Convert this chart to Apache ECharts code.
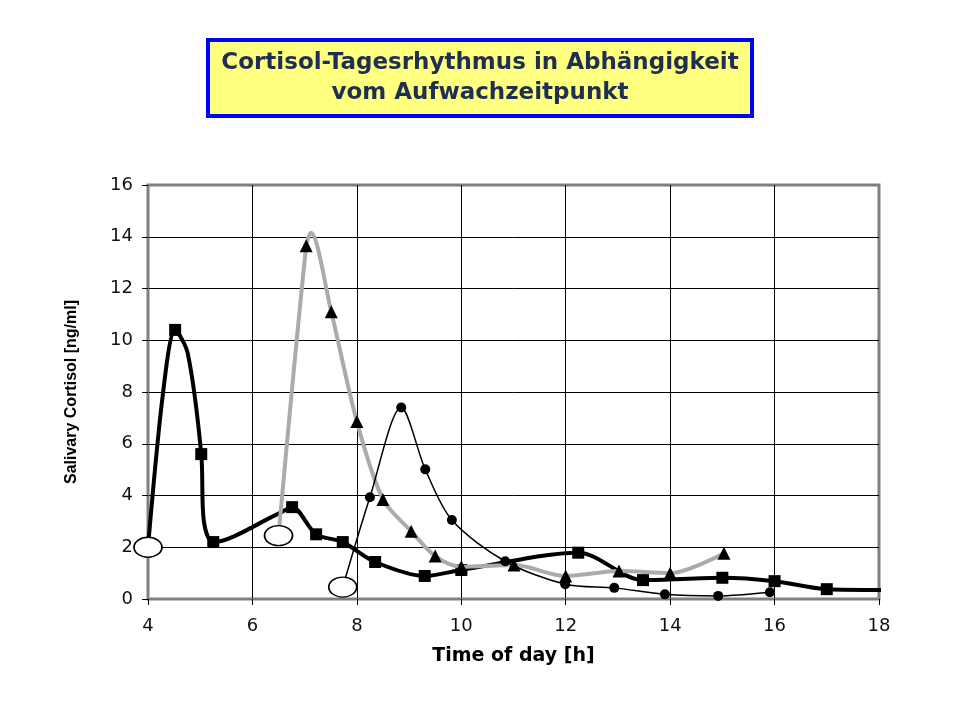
<!DOCTYPE html>
<html lang="de">
<head>
  <meta charset="UTF-8" />
  <title>Cortisol-Tagesrhythmus</title>
  <script src="https://cdn.jsdelivr.net/npm/echarts@6/dist/echarts.min.js"></script>
  <style>
    html, body { margin: 0; padding: 0; background: #fff; }
  </style>
</head>
<body>
  <div id="main" style="width: 960px; height: 720px;"></div>
  <script type="text/javascript">
    // Achsen
    let xTicks = [4, 6, 8, 10, 12, 14, 16, 18];
    let yTicks = [0, 2, 4, 6, 8, 10, 12, 14, 16];

    // Aufwachen ca. 4:00 (dicke schwarze Linie, Quadrate)
    let wake4X = [4.0, 4.29, 4.52, 4.76, 5.02, 5.07, 5.25, 6.5, 6.76, 7.22, 7.73, 8.35, 9.3, 10.0, 12.24, 13.48, 15.0, 16.0, 17.0, 18.35];
    let wake4Y = [2.0, 8.0, 10.4, 9.5, 5.6, 3.0, 2.2, 3.3, 3.55, 2.5, 2.2, 1.43, 0.89, 1.12, 1.79, 0.73, 0.82, 0.69, 0.38, 0.35];
    let wake4Mark = [2, 0, 1, 0, 1, 0, 1, 0, 1, 1, 1, 1, 1, 1, 1, 1, 1, 1, 1, 0];

    // Aufwachen ca. 6:30 (graue Linie, Dreiecke)
    let wake6X = [6.5, 7.03, 7.12, 7.51, 8.0, 8.5, 9.04, 9.5, 10.0, 11.01, 12.0, 13.02, 14.0, 15.03];
    let wake6Y = [2.45, 13.65, 14.15, 11.1, 6.86, 3.85, 2.62, 1.66, 1.25, 1.31, 0.89, 1.08, 1.0, 1.77];
    let wake6Mark = [2, 1, 0, 1, 1, 1, 1, 1, 1, 1, 1, 1, 1, 1];

    // Aufwachen ca. 7:45 (duenne schwarze Linie, Kreise)
    let wake7X = [7.73, 8.25, 8.85, 9.31, 9.82, 10.84, 11.99, 12.93, 13.9, 14.92, 15.91];
    let wake7Y = [0.46, 3.93, 7.4, 5.01, 3.05, 1.46, 0.57, 0.43, 0.18, 0.12, 0.26];
    let wake7Mark = [2, 1, 1, 1, 1, 1, 1, 1, 1, 1, 1];

    // offene Ellipse am Aufwachzeitpunkt
    let ellipse = 'path://M0,10A10,10,0,1,1,20,10A10,10,0,1,1,0,10Z';

    function buildData(xs, ys, marks, symbol, size) {
      return xs.map(function (x, i) {
        if (marks[i] === 2) {
          return {
            value: [x, ys[i]], symbol: ellipse, symbolSize: [28, 20],
            itemStyle: { color: '#fff', borderColor: '#000', borderWidth: 1.5 }
          };
        }
        return { value: [x, ys[i]], symbol: marks[i] ? symbol : 'none', symbolSize: size };
      });
    }

    let labelFont = "'DejaVu Sans', Arial, sans-serif";
    let gridColor = '#000';
    let frameColor = '#808080';

    var myChart = echarts.init(document.getElementById('main'));
    myChart.setOption({
      animation: false,
      backgroundColor: '#fff',
      title: {
        text: 'Cortisol-Tagesrhythmus in Abhängigkeit\nvom Aufwachzeitpunkt',
        left: 'center',
        top: 40,
        padding: [8, 14, 8, 14],
        backgroundColor: '#ffff80',
        borderColor: '#0000ff',
        borderWidth: 4,
        textStyle: {
          fontFamily: "'DejaVu Sans', Arial, sans-serif",
          fontWeight: 'bold',
          fontSize: 23,
          lineHeight: 30,
          color: '#1e2f52'
        }
      },
      grid: {
        left: 148, right: 81, top: 185, bottom: 121,
        show: true,
        borderColor: frameColor,
        borderWidth: 3
      },
      xAxis: {
        type: 'value',
        min: xTicks[0],
        max: xTicks[xTicks.length - 1],
        interval: 2,
        name: 'Time of day [h]',
        nameLocation: 'middle',
        nameGap: 48,
        nameTextStyle: { fontFamily: labelFont, fontWeight: 'bold', fontSize: 19, color: '#000' },
        axisLine: { show: true, lineStyle: { color: frameColor, width: 2 } },
        axisTick: { show: true, length: 6, lineStyle: { color: '#000' } },
        axisLabel: { fontFamily: labelFont, fontSize: 18, color: '#111', margin: 18 },
        splitLine: {
          show: true,
          lineStyle: { color: xTicks.map(function (t, i) { return (i === 0 || i === xTicks.length - 1) ? frameColor : gridColor; }), width: 1 }
        }
      },
      yAxis: {
        type: 'value',
        min: yTicks[0],
        max: yTicks[yTicks.length - 1],
        interval: 2,
        name: 'Salivary Cortisol [ng/ml]',
        nameLocation: 'middle',
        nameGap: 68,
        nameTextStyle: { fontFamily: "'Liberation Sans Narrow', 'Liberation Sans', Arial, sans-serif", fontWeight: 'bold', fontSize: 16, color: '#000' },
        axisLine: { show: true, lineStyle: { color: frameColor, width: 2 } },
        axisTick: { show: true, length: 6, lineStyle: { color: '#000' } },
        axisLabel: { fontFamily: labelFont, fontSize: 18, color: '#111', margin: 15 },
        splitLine: {
          show: true,
          lineStyle: { color: yTicks.map(function (t, i) { return (i === 0 || i === yTicks.length - 1) ? frameColor : gridColor; }), width: 1 }
        }
      },
      series: [
        {
          name: 'Aufwachen 4:00',
          type: 'line',
          smooth: 0.3,
          clip: false,
          data: buildData(wake4X, wake4Y, wake4Mark, 'rect', 12),
          lineStyle: { color: '#000', width: 4 },
          itemStyle: { color: '#000' },
          z: 2
        },
        {
          name: 'Aufwachen 6:30',
          type: 'line',
          smooth: 0.3,
          data: buildData(wake6X, wake6Y, wake6Mark, 'triangle', 13),
          lineStyle: { color: '#ababab', width: 4 },
          itemStyle: { color: '#000' },
          z: 3
        },
        {
          name: 'Aufwachen 7:45',
          type: 'line',
          smooth: 0.3,
          data: buildData(wake7X, wake7Y, wake7Mark, 'circle', 10),
          lineStyle: { color: '#000', width: 1.5 },
          itemStyle: { color: '#000' },
          z: 4
        }
      ]
    });
  </script>
</body>
</html>
